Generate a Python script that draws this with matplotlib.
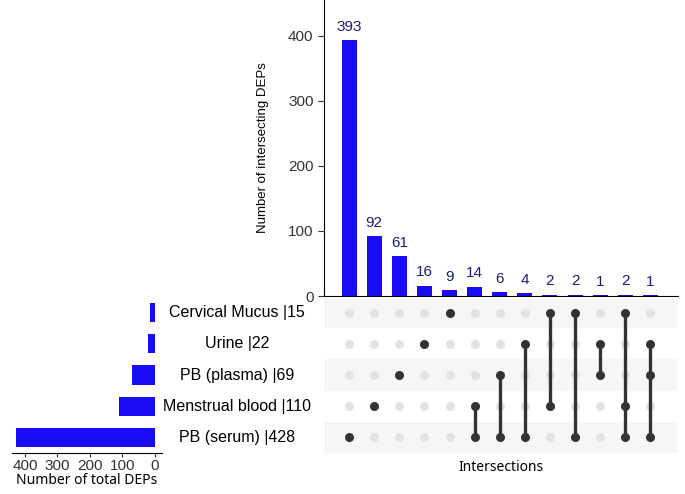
import numpy as np
import matplotlib.pyplot as plt
from matplotlib import transforms

plt.rcParams['font.family'] = ['Liberation Sans', 'DejaVu Sans']

# sets, top to bottom in the matrix
set_names = ["Cervical Mucus", "Urine", "PB (plasma)", "Menstrual blood", "PB (serum)"]
set_sizes = [15, 22, 69, 110, 428]

# intersection sizes, left to right
inter_sizes = [393, 92, 61, 16, 9, 14, 6, 4, 2, 2, 1, 2, 1]
# members of each intersection (row index into set_names)
inter_members = [[4], [3], [2], [1], [0], [3, 4], [2, 4], [1, 4], [0, 3], [0, 4],
                 [1, 2], [0, 3, 4], [1, 2, 4]]

bar_col = "#1a0cf2"
lab_col = "#1c1c78"
W, H = 685, 494

fig = plt.figure(figsize=(6.85, 4.94), dpi=100)

def px_ax(x0, y0, x1, y1):
    return fig.add_axes([x0 / W, 1 - y1 / H, (x1 - x0) / W, (y1 - y0) / H])

xl = (-1.0, 13.1)
n = len(inter_sizes)
xs = np.arange(n)

# intersection bars
ax_bar = px_ax(324, 0, 678, 296)
ax_bar.bar(xs, inter_sizes, width=0.6, color=bar_col)
for x, v in zip(xs, inter_sizes):
    ax_bar.text(x, v + 10, str(v), ha="center", va="bottom", color=lab_col, fontsize=11)
ax_bar.set_xlim(*xl)
ax_bar.set_ylim(0, 455)
ax_bar.set_yticks([0, 100, 200, 300, 400])
ax_bar.set_xticks([])
ax_bar.tick_params(axis="y", labelsize=11, length=4, colors="#333333")
ax_bar.spines[["top", "right"]].set_visible(False)
ax_bar.set_ylabel("Number of intersecting DEPs", fontsize=9.5, labelpad=14)

# matrix
ax_m = px_ax(324, 297, 678, 453)
nrow = len(set_names)
for r in range(0, nrow, 2):
    ax_m.axhspan(r - 0.5, r + 0.5, color="#f6f6f6", lw=0, zorder=0)
for i, mem in enumerate(inter_members):
    ax_m.scatter([i] * nrow, range(nrow), s=42, color="#e2e2e2", zorder=1, lw=0)
    ax_m.plot([i, i], [min(mem), max(mem)], color="#333333", lw=2.4, zorder=2)
    ax_m.scatter([i] * len(mem), mem, s=42, color="#333333", zorder=3, lw=0)
ax_m.set_xlim(*xl)
ax_m.set_ylim(nrow - 0.5, -0.5)
ax_m.set_xticks([])
ax_m.set_yticks([])
for s in ax_m.spines.values():
    s.set_visible(False)
ax_m.set_xlabel("Intersections", fontsize=10, family="Noto Sans", labelpad=5)

# set labels
tr = transforms.blended_transform_factory(fig.transFigure, ax_m.transData)
for r, (nm, sz) in enumerate(zip(set_names, set_sizes)):
    ax_m.text(237 / W, r, f"{nm} |{sz}", transform=tr, ha="center", va="center",
              fontsize=11.5)

# set size bars
ax_s = px_ax(12, 297, 162, 453)
ax_s.barh(range(nrow), set_sizes, height=0.62, color=bar_col)
ax_s.set_xlim(440, -22)
ax_s.set_ylim(nrow - 0.5, -0.5)
ax_s.set_xticks([0, 100, 200, 300, 400])
ax_s.set_yticks([])
ax_s.tick_params(axis="x", labelsize=11, length=3, pad=1, colors="#333333")
for k in ["top", "right", "left"]:
    ax_s.spines[k].set_visible(False)
ax_s.set_xlabel("Number of total DEPs", fontsize=10, family="Noto Sans", labelpad=0)

fig.savefig("out.png", dpi=100)
